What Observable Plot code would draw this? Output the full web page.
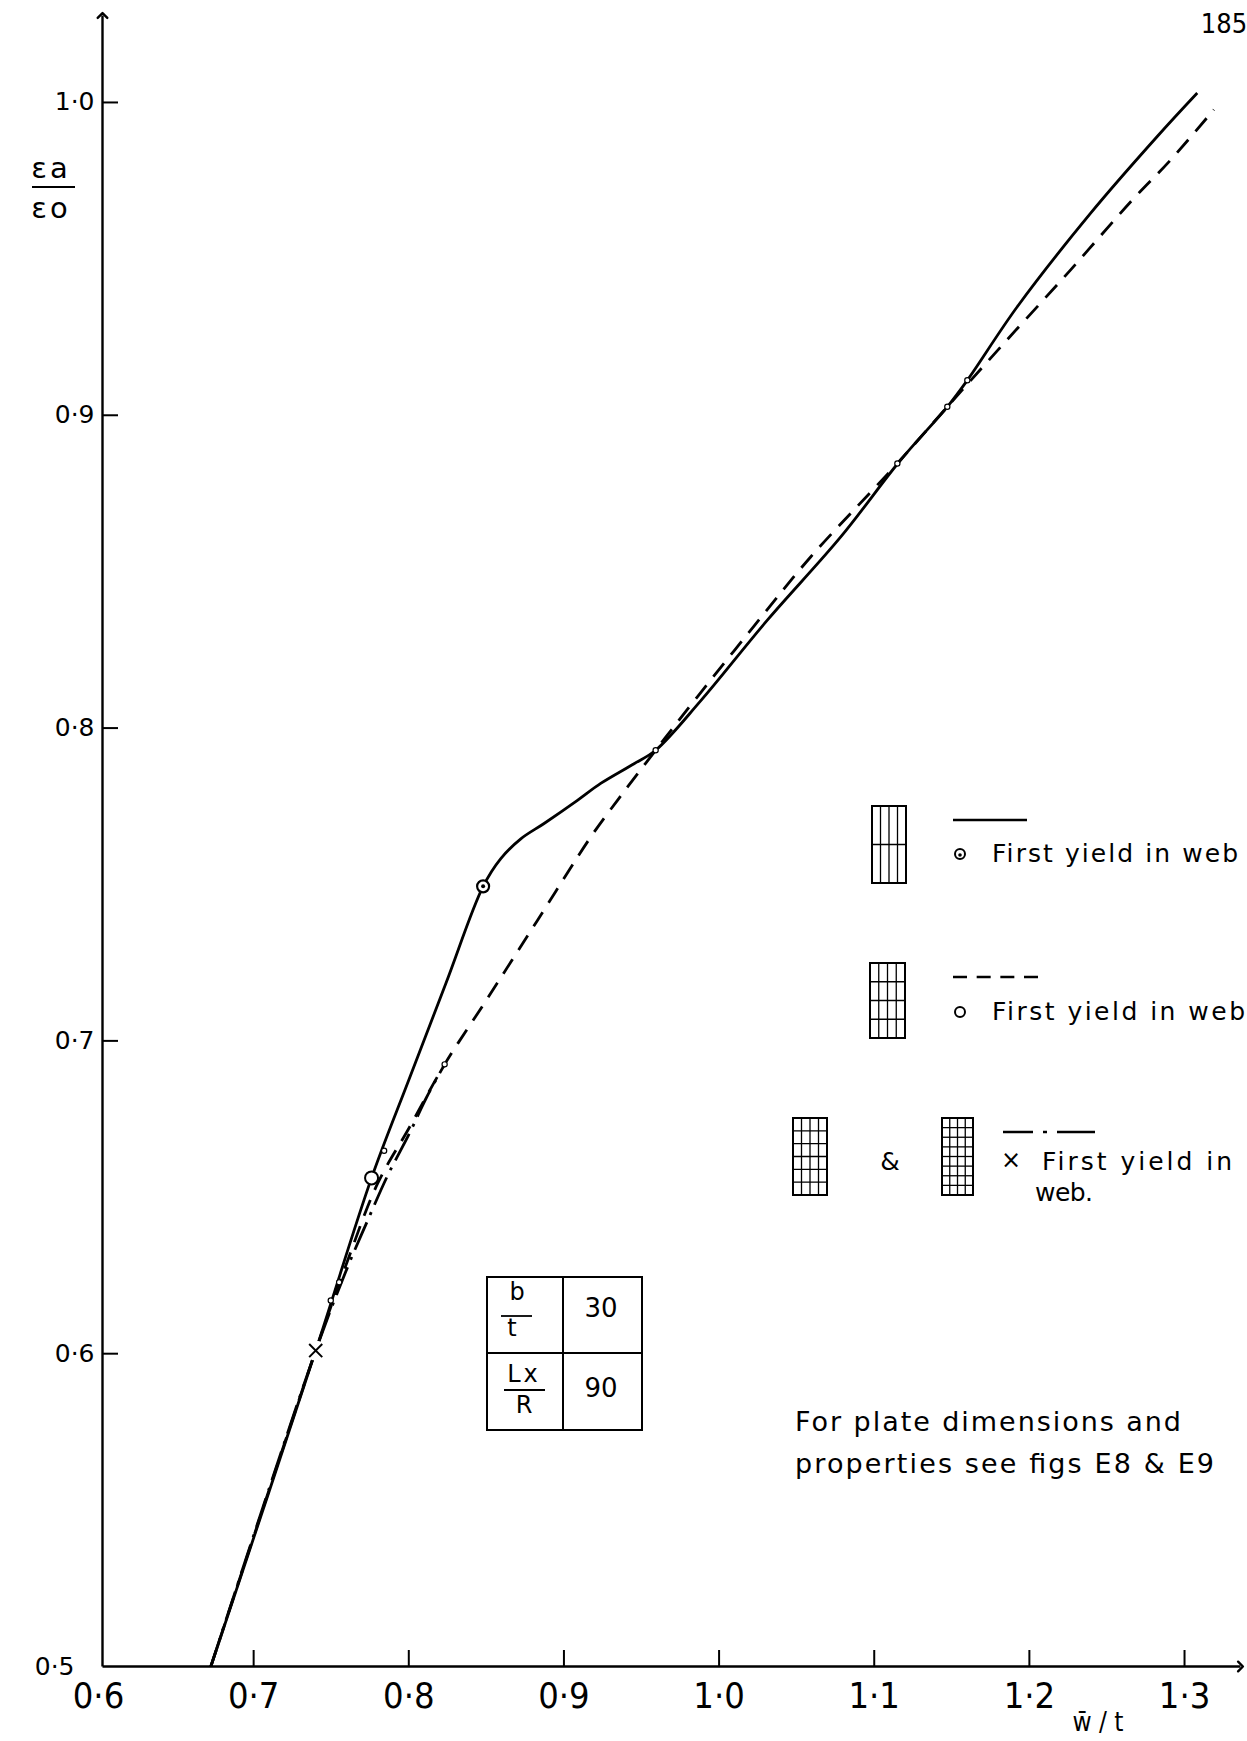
<!DOCTYPE html>
<html><head><meta charset="utf-8">
<script src="https://cdn.jsdelivr.net/npm/d3@7"></script>
<script src="https://cdn.jsdelivr.net/npm/@observablehq/plot@0.6"></script>
<style>
html,body{margin:0;padding:0;background:#fff;}
#chart{position:relative;width:1247px;height:1741px;}
</style></head><body><div id="chart"></div>
<script>
// ---- axes ----
const xDomain = [0.6, 1.3335];
const yDomain = [0.5, 1.0278];
const xTicks = [0.6, 0.7, 0.8, 0.9, 1.0, 1.1, 1.2, 1.3];
const xTickLabels = ["0·6", "0·7", "0·8", "0·9", "1·0", "1·1", "1·2", "1·3"];
const yTicks = [0.5, 0.6, 0.7, 0.8, 0.9, 1.0];
const yTickLabels = ["0·5", "0·6", "0·7", "0·8", "0·9", "1·0"];

// ---- series: solid (first configuration) ----
const solidX = [0.6724, 0.7400, 0.7760, 0.8000, 0.8240, 0.8479, 0.8593, 0.8722, 0.8872, 0.9087, 0.9237, 0.9452, 0.9591, 0.9881, 1.0311, 1.0784, 1.1170, 1.1471, 1.1600, 1.1922, 1.2395, 1.2824, 1.3082];
const solidY = [0.5000, 0.6010, 0.6562, 0.6875, 0.7185, 0.7494, 0.7583, 0.7646, 0.7695, 0.7769, 0.7823, 0.7886, 0.7929, 0.8087, 0.8345, 0.8611, 0.8857, 0.9027, 0.9112, 0.9347, 0.9646, 0.9891, 1.0030];

// ---- series: dashed (second configuration) ----
const dashedX = [0.6724, 0.7400, 0.7600, 0.7800, 0.8000, 0.8231, 0.8485, 0.8829, 0.9173, 0.9345, 0.9591, 0.9860, 1.0225, 1.0590, 1.0988, 1.1149, 1.1471, 1.1836, 1.2266, 1.2663, 1.2910, 1.3189];
const dashedY = [0.5000, 0.6010, 0.6290, 0.6545, 0.6720, 0.6925, 0.7119, 0.7385, 0.7652, 0.7769, 0.7929, 0.8100, 0.8326, 0.8547, 0.8760, 0.8846, 0.9027, 0.9230, 0.9465, 0.9688, 0.9816, 0.9977];

// ---- series: dash-dot (third / fourth configurations) ----
const dashdotX = [0.6724, 0.7400, 0.7605, 0.7734, 0.7863, 0.8000, 0.8110, 0.8231];
const dashdotY = [0.5000, 0.6010, 0.6276, 0.6425, 0.6569, 0.6700, 0.6815, 0.6925];

// ---- first-yield markers ----
const yieldSolid = [0.8479, 0.7494];
const yieldDashed = [0.7760, 0.6562];
const yieldDashdot = [0.7400, 0.6010];

// ---- small plotted-point marks ----
const pointX = [0.7497, 0.7551, 0.7841, 0.8231, 0.9591, 1.1149, 1.1471, 1.1600];
const pointY = [0.6170, 0.6228, 0.6649, 0.6925, 0.7929, 0.8846, 0.9027, 0.9112];

// ---- table ----
const tableValues = ["30", "90"];

const W = 1247, H = 1741;
const mL = 98, mR = 11, mT = 15, mB = 75;
const plotW = W - mL - mR, plotH = H - mT - mB;
const AXIS_DX = 4;
const FONT = "'DejaVu Sans', 'Noto Sans', sans-serif";
const FONT_C = "'Liberation Sans Narrow', 'DejaVu Sans Condensed', 'Roboto Condensed', sans-serif";

const toRows = (xs, ys) => xs.map((x, i) => ({x, y: ys[i]}));
const solid = toRows(solidX, solidY);
const dashed = toRows(dashedX, dashedY);
const dashdot = toRows(dashdotX, dashdotY);
const points = toRows(pointX, pointY);

const lineStyle = {x: "x", y: "y", stroke: "black", strokeWidth: 2.8, curve: "catmull-rom", strokeLinecap: "butt"};
const yLabel = d => yTickLabels[yTicks.indexOf(d)];

const svg = Plot.plot({
  width: W, height: H,
  marginLeft: mL, marginRight: mR, marginTop: mT, marginBottom: mB,
  style: {background: "white", color: "black"},
  x: {domain: xDomain},
  y: {domain: yDomain},
  marks: [
    // axis lines with arrows
    Plot.link([0], {x1: [xDomain[0]], y1: [yDomain[0]], x2: [xDomain[0]], y2: [yDomain[1]], dx: AXIS_DX, stroke: "black", strokeWidth: 2.4, markerEnd: "arrow"}),
    Plot.link([0], {x1: [xDomain[0]], y1: [yDomain[0]], x2: [xDomain[1]], y2: [yDomain[0]], dx: AXIS_DX, stroke: "black", strokeWidth: 2.4, markerEnd: "arrow"}),
    // inward tick marks
    Plot.tickX(xTicks.slice(1), {x: d => d, stroke: "black", strokeWidth: 2, insetTop: plotH - 16}),
    Plot.tickY(yTicks.slice(1), {y: d => d, dx: AXIS_DX, stroke: "black", strokeWidth: 2, insetRight: plotW - 16}),
    // tick labels
    Plot.axisX({ticks: xTicks, tickSize: 0, tickPadding: 16, tickFormat: d => xTickLabels[xTicks.indexOf(d)], fontSize: 36, fontFamily: FONT_C, label: null}),
    Plot.axisY({ticks: yTicks.slice(1), tickSize: 0, tickPadding: 4, tickFormat: yLabel, fontSize: 25, fontFamily: FONT, label: null}),
    Plot.text(yTicks.slice(0, 1), {x: xDomain[0], y: d => d, text: yLabel, dx: -24, textAnchor: "end", fontSize: 25, fontFamily: FONT, fill: "black"}),
    // curves
    Plot.line(dashdot, {...lineStyle, strokeDasharray: "30,8,3,8"}),
    Plot.line(dashed, {...lineStyle, strokeDasharray: "17,11"}),
    Plot.line(solid, lineStyle),
    // small point marks
    Plot.dot(points, {x: "x", y: "y", r: 2.6, fill: "white", stroke: "black", strokeWidth: 1.2}),
    // first-yield markers
    Plot.dot([yieldDashdot], {x: d => d[0], y: d => d[1], r: 10, fill: "white"}),
    Plot.dot([yieldDashdot], {x: d => d[0], y: d => d[1], r: 6, symbol: "times", stroke: "black", strokeWidth: 2}),
    Plot.dot([yieldDashed], {x: d => d[0], y: d => d[1], r: 6.5, fill: "white", stroke: "black", strokeWidth: 2}),
    Plot.dot([yieldSolid], {x: d => d[0], y: d => d[1], r: 6, fill: "white", stroke: "black", strokeWidth: 2.2}),
    Plot.dot([yieldSolid], {x: d => d[0], y: d => d[1], r: 2, fill: "black"})
  ]
});
document.getElementById("chart").appendChild(svg);

// ---- annotations (legend, table, titles) ----
const g = d3.select(svg).append("g").attr("fill", "black");
function txt(s, x, y, opts = {}) {
  const t = g.append("text").attr("x", x).attr("y", y).text(s)
    .attr("font-family", opts.family || FONT)
    .attr("font-size", opts.size || 25)
    .attr("text-anchor", opts.anchor || "start");
  if (opts.len) t.attr("textLength", opts.len).attr("lengthAdjust", "spacing");
  if (opts.ls) t.attr("letter-spacing", opts.ls);
  return t;
}
function line(x1, y1, x2, y2, sw = 2, dash = null) {
  const l = g.append("line").attr("x1", x1).attr("y1", y1).attr("x2", x2).attr("y2", y2)
    .attr("stroke", "black").attr("stroke-width", sw);
  if (dash) l.attr("stroke-dasharray", dash);
}
function gridBox(x, y, w, h, cols, rows) {
  g.append("rect").attr("x", x).attr("y", y).attr("width", w).attr("height", h)
    .attr("fill", "none").attr("stroke", "black").attr("stroke-width", 2);
  for (let i = 1; i < cols; i++) line(x + w * i / cols, y, x + w * i / cols, y + h, 1.3);
  for (let j = 1; j < rows; j++) line(x, y + h * j / rows, x + w, y + h * j / rows, 1.3);
}

// page number
txt("185", 1224, 33, {family: FONT_C, size: 27, anchor: "middle"});

// y-axis title (fraction)
txt("εa", 51, 178, {size: 29, anchor: "middle", ls: 3});
line(32, 187, 75, 187, 1.8);
txt("εo", 51, 218, {size: 29, anchor: "middle", ls: 3});

// x-axis title
txt("w\u0304 / t", 1098, 1731, {family: FONT_C, size: 26, anchor: "middle"});

// legend row 1
gridBox(872, 806, 34, 77, 4, 2);
line(953, 820, 1027, 820, 2.5);
g.append("circle").attr("cx", 960).attr("cy", 854).attr("r", 5).attr("fill", "white").attr("stroke", "black").attr("stroke-width", 2);
g.append("circle").attr("cx", 960).attr("cy", 855).attr("r", 1.8).attr("fill", "black");
txt("First yield in web", 992, 862, {len: 246});

// legend row 2
gridBox(870, 963, 35, 75, 4, 4);
line(953, 977, 1038, 977, 2.5, "14,9.67");
g.append("circle").attr("cx", 960).attr("cy", 1012).attr("r", 5).attr("fill", "white").attr("stroke", "black").attr("stroke-width", 2);
txt("First yield in web", 992, 1020, {len: 253});

// legend row 3
gridBox(793, 1118, 34, 77, 4, 6);
txt("&", 890, 1170, {size: 25, anchor: "middle"});
gridBox(942, 1118, 31, 77, 4, 8);
line(1003, 1132, 1095, 1132, 2.5, "30,10,4,10,38");
txt("×", 1011, 1168, {size: 24, anchor: "middle"});
txt("First yield in", 1042, 1170, {len: 190});
txt("web.", 1035, 1201, {len: 58});

// table
g.append("rect").attr("x", 487).attr("y", 1277).attr("width", 155).attr("height", 153)
  .attr("fill", "none").attr("stroke", "black").attr("stroke-width", 2);
line(563, 1277, 563, 1430, 2);
line(487, 1353, 642, 1353, 2);
txt("b", 517, 1300, {size: 24, anchor: "middle"});
line(501, 1316, 532, 1316, 1.8);
txt("t", 512, 1336, {size: 24, anchor: "middle"});
txt(tableValues[0], 601, 1317, {size: 26, anchor: "middle"});
txt("Lx", 524, 1382, {size: 24, anchor: "middle", ls: 3});
line(504, 1390, 545, 1390, 1.8);
txt("R", 524, 1413, {size: 24, anchor: "middle"});
txt(tableValues[1], 601, 1397, {size: 26, anchor: "middle"});

// note
txt("For plate dimensions and", 795, 1431, {size: 27, len: 386});
txt("properties see figs E8 & E9", 795, 1473, {size: 27, len: 419});
</script>
</body></html>
